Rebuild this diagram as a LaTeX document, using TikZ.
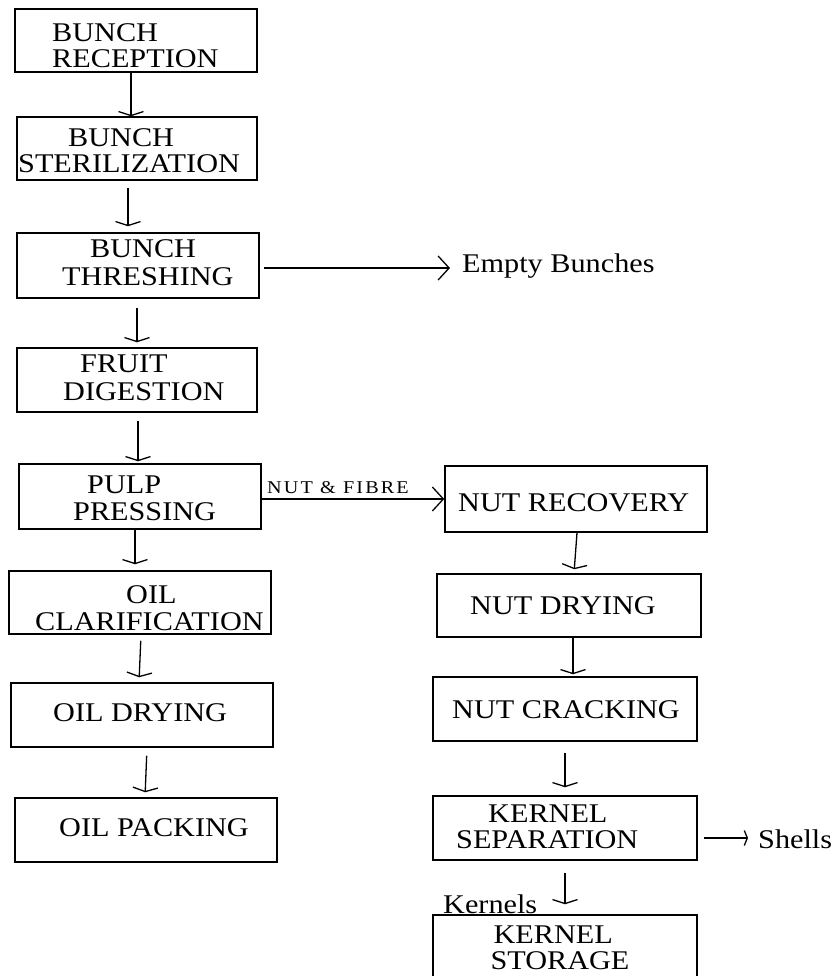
\documentclass[tikz,border=0pt]{standalone}
\usepackage{fontspec}
\setmainfont{Liberation Serif}[FakeStretch=1.12]
\newfontfamily\smallfnt{Liberation Serif}[FakeStretch=1.12,LetterSpace=12]
\usetikzlibrary{arrows.meta}
\begin{document}
\begin{tikzpicture}[x=1pt,y=-1pt,
  box/.style={draw, line width=1.5pt, inner sep=0pt},
  txt/.style={anchor=base west, inner sep=0pt, text height=18pt, text depth=4pt, font=\fontsize{27}{27}\selectfont},
  smalltxt/.style={anchor=base west, inner sep=0pt, font=\smallfnt\fontsize{18}{18}\selectfont},
  varr/.style={line width=1.3pt, -{Straight Barb[length=4pt,width=25pt,line width=1.3pt]}},
  harr/.style={line width=1.3pt, -{Straight Barb[length=11pt,width=24pt,line width=1.3pt]}},
  farr/.style={line width=1.3pt, -{Straight Barb[length=3pt,width=15pt,line width=1.3pt]}}
]
\clip (0,0) rectangle (837,976);
% left column boxes
\node[box, minimum width=242, minimum height=63] (b1) at (136,40.5) {};
\node[box, minimum width=240, minimum height=63] (b2) at (137,148.5) {};
\node[box, minimum width=242, minimum height=65] (b3) at (138,265.5) {};
\node[box, minimum width=240, minimum height=64] (b4) at (137,380) {};
\node[box, minimum width=242, minimum height=65] (b5) at (140,496.5) {};
\node[box, minimum width=262, minimum height=63] (b6) at (140,602.5) {};
\node[box, minimum width=262, minimum height=64] (b7) at (142,715) {};
\node[box, minimum width=262, minimum height=64] (b8) at (146,830) {};
% right column boxes
\node[box, minimum width=262, minimum height=66] (n1) at (576,499) {};
\node[box, minimum width=264, minimum height=63] (n2) at (569,605.5) {};
\node[box, minimum width=264, minimum height=64] (n3) at (565,709) {};
\node[box, minimum width=264, minimum height=64] (n4) at (565,828) {};
\node[box, minimum width=264, minimum height=66, align=left,
      font=\fontsize{27}{27}\selectfont] (n5) at (565,948)
      {\hspace*{3pt}KERNEL\\[-1pt]STORAGE\hspace*{10pt}};
% box texts
\node[txt] (t1a) at (52,42) {BUNCH};
\node[txt] (t1b) at (52,68) {RECEPTION};
\node[txt] (t2a) at (68,147) {BUNCH};
\node[txt] (t2b) at (18,173) {STERILIZATION};
\node[txt] (t3a) at (90,257) {BUNCH};
\node[txt] (t3b) at (62,285) {THRESHING};
\node[txt] (t4a) at (80,372) {FRUIT};
\node[txt] (t4b) at (63,400) {DIGESTION};
\node[txt] (t5a) at (87,493) {PULP};
\node[txt] (t5b) at (73,520) {PRESSING};
\node[txt] (t6a) at (126,603) {OIL};
\node[txt] (t6b) at (35,630) {CLARIFICATION};
\node[txt] (t7) at (53,721) {OIL DRYING};
\node[txt] (t8) at (59,836) {OIL PACKING};
\node[txt] (u1) at (458,511) {NUT RECOVERY};
\node[txt] (u2) at (470,614) {NUT DRYING};
\node[txt] (u3) at (452,718) {NUT CRACKING};
\node[txt] (u4a) at (488,822) {KERNEL};
\node[txt] (u4b) at (456,848) {SEPARATION};
% side labels
\node[txt] (eb) at (462,272) {Empty Bunches};
\node[txt] (sh) at (758,848) {Shells};
\node[txt] (kn) at (443,913) {Kernels};
\node[smalltxt] (nf) at (267,493) {NUT \& FIBRE};
% vertical arrows, left column
\draw[varr] (b1.south -| 131,0) -- (b2.north -| 131,0);
\draw[varr, shorten <=7pt, shorten >=6pt] (b2.south -| 128,0) -- (b3.north -| 128,0);
\draw[varr, shorten <=9pt, shorten >=5pt] (b3.south -| 137,0) -- (b4.north -| 137,0);
\draw[varr, shorten <=8pt, shorten >=2pt] (b4.south -| 138,0) -- (b5.north -| 138,0);
\draw[varr, shorten >=6pt] (b5.south -| 135,0) -- (b6.north -| 135,0);
\draw[varr, shorten <=6pt, shorten >=5pt] (b6.south -| 141,0) -- (b7.north -| 139,0);
\draw[varr, shorten <=8pt, shorten >=5pt] (b7.south -| 147,0) -- (b8.north -| 145,0);
% vertical arrows, right column
\draw[varr, shorten >=4pt] (n1.south -| 577,0) -- (n2.north -| 574,0);
\draw[varr, shorten >=2pt] (n2.south -| 573,0) -- (n3.north -| 573,0);
\draw[varr, shorten <=11pt, shorten >=8pt] (n3.south -| 565,0) -- (n4.north -| 565,0);
\draw[varr, shorten <=12pt, shorten >=10pt] (n4.south -| 565,0) -- (n5.north -| 565,0);
% horizontal arrows
\draw[harr, shorten <=4pt, shorten >=12pt] (b3.east |- 0,268) -- (eb.west |- 0,268);
\draw[harr] (b5.east |- 0,499) -- (n1.west |- 0,499);
\draw[farr, shorten <=6pt, shorten >=10pt] (n4.east |- 0,838) -- (sh.west |- 0,838);
\end{tikzpicture}
\end{document}
